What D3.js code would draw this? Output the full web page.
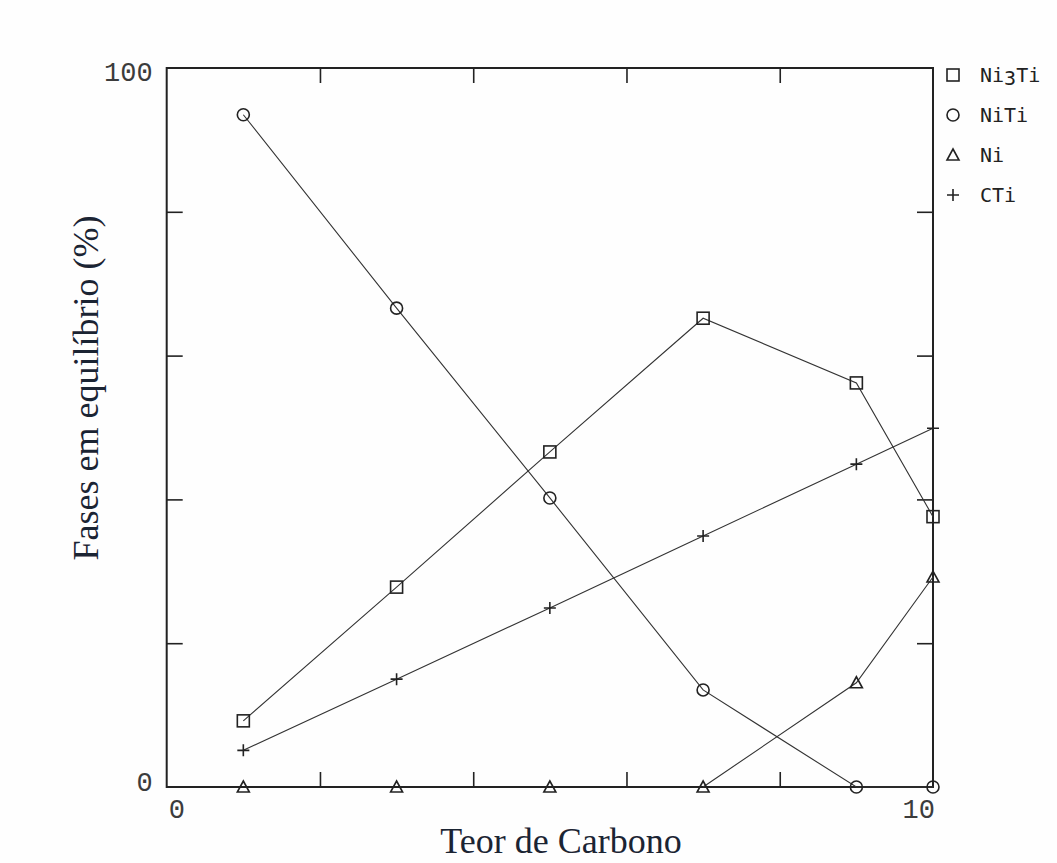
<!DOCTYPE html>
<html>
<head>
<meta charset="utf-8">
<script src="https://cdn.jsdelivr.net/npm/d3@7"></script>
<style>
  html, body { margin: 0; padding: 0; background: #fefefe; }
  svg { display: block; }
</style>
</head>
<body>
<svg id="chart" width="1057" height="863"></svg>
<script>
// Carbon content (x) and phase fractions in equilibrium (%)
const carbon = [1, 3, 5, 7, 9, 10];
const ni3ti  = [9.2, 27.8, 46.6, 65.2, 56.2, 37.6];
const niti   = [93.5, 66.6, 40.2, 13.5, 0, 0];
const ni     = [0, 0, 0, 0, 14.5, 29.2];
const cti    = [5.1, 15.0, 24.9, 34.9, 44.9, 49.9];

const seriesNames = ["Ni3Ti", "NiTi", "Ni", "CTi"];
const seriesValues = [ni3ti, niti, ni, cti];
const seriesMarkers = ["square", "circle", "triangle", "plus"];

const xTicks = [0, 2, 4, 6, 8, 10];
const yTicks = [0, 20, 40, 60, 80, 100];
const xTickLabels = ["0", "10"];
const yTickLabels = ["0", "100"];

const svg = d3.select("#chart");
const plotLeft = 166.7, plotRight = 933, plotTop = 68, plotBottom = 787;

const x = d3.scaleLinear().domain([0, 10]).range([plotLeft, plotRight]);
const y = d3.scaleLinear().domain([0, 100]).range([plotBottom, plotTop]);

const ink = "#222";
const monoFont = "'DejaVu Sans Mono', 'Liberation Mono', monospace";
const thinMono = "'Liberation Mono', 'DejaVu Sans Mono', monospace";
const serifFont = "'Liberation Serif', 'DejaVu Serif', serif";

// Inward ticks on all four sides
function styleAxis(g) {
  g.select(".domain").remove();
  g.selectAll(".tick line").attr("stroke", ink).attr("stroke-width", 1.6);
  g.selectAll(".tick text").remove();
}
svg.append("g").attr("transform", `translate(0,${plotBottom})`)
  .call(d3.axisBottom(x).tickValues(xTicks.slice(1, -1)).tickSize(-15)).call(styleAxis);
svg.append("g").attr("transform", `translate(0,${plotTop})`)
  .call(d3.axisTop(x).tickValues(xTicks.slice(1, -1)).tickSize(-15)).call(styleAxis);
svg.append("g").attr("transform", `translate(${plotLeft},0)`)
  .call(d3.axisLeft(y).tickValues(yTicks.slice(1, -1)).tickSize(-16)).call(styleAxis);
svg.append("g").attr("transform", `translate(${plotRight},0)`)
  .call(d3.axisRight(y).tickValues(yTicks.slice(1, -1)).tickSize(-16)).call(styleAxis);

// Plot frame
svg.append("rect")
  .attr("x", x(0)).attr("y", y(100))
  .attr("width", x(10) - x(0)).attr("height", y(0) - y(100))
  .attr("fill", "none").attr("stroke", ink).attr("stroke-width", 2);

// Tick labels
const tickLabelStyle = s => s.attr("font-family", thinMono).attr("font-size", 27)
  .attr("fill", "#3c3c3c");
svg.append("text").text(yTickLabels[1]).call(tickLabelStyle)
  .attr("x", plotLeft - 14).attr("y", y(100) + 13).attr("text-anchor", "end");
svg.append("text").text(yTickLabels[0]).call(tickLabelStyle)
  .attr("x", plotLeft - 14).attr("y", y(0) + 4).attr("text-anchor", "end");
svg.append("text").text(xTickLabels[0]).call(tickLabelStyle)
  .attr("x", x(0) + 2).attr("y", plotBottom + 31).attr("text-anchor", "start");
svg.append("text").text(xTickLabels[1]).call(tickLabelStyle)
  .attr("x", x(10) + 2).attr("y", plotBottom + 31).attr("text-anchor", "end");

// Axis titles
svg.append("text").text("Teor de Carbono")
  .attr("font-family", serifFont).attr("font-size", 36).attr("fill", "#1b2433")
  .attr("x", 561).attr("y", 853).attr("text-anchor", "middle");
svg.append("text").text("Fases em equilíbrio (%)")
  .attr("font-family", serifFont).attr("font-size", 36).attr("fill", "#1b2433")
  .attr("text-anchor", "middle")
  .attr("transform", "translate(98,388) rotate(-90)");

// Marker drawing
function drawMarker(g, type, cx, cy) {
  const s = 6;
  const common = el => el.attr("fill", "none").attr("stroke", ink).attr("stroke-width", 1.6);
  if (type === "square") {
    g.append("rect").attr("x", cx - s).attr("y", cy - s).attr("width", 2 * s).attr("height", 2 * s).call(common);
  } else if (type === "circle") {
    g.append("circle").attr("cx", cx).attr("cy", cy).attr("r", s).call(common);
  } else if (type === "triangle") {
    g.append("path").attr("d", `M${cx},${cy - s} L${cx + s},${cy + 5} L${cx - s},${cy + 5} Z`).call(common);
  } else {
    g.append("path").attr("d", `M${cx - s},${cy} H${cx + s} M${cx},${cy - s} V${cy + s}`).call(common);
  }
}

const line = d3.line().x(d => x(d[0])).y(d => y(d[1]));

seriesValues.forEach((vals, i) => {
  const pts = carbon.map((c, j) => [c, vals[j]]);
  const g = svg.append("g");
  // Ni is drawn as a line only where it is present
  const linePts = seriesNames[i] === "Ni" ? pts.filter((p, j) => j >= 3) : pts;
  g.append("path").attr("d", line(linePts))
    .attr("fill", "none").attr("stroke", "#333").attr("stroke-width", 1.1);
  pts.forEach(p => drawMarker(g, seriesMarkers[i], x(p[0]), y(p[1])));
});

// Legend
const legendY = [75, 115, 155, 195];
seriesNames.forEach((name, i) => {
  const g = svg.append("g");
  drawMarker(g, seriesMarkers[i], 953, legendY[i]);
  const t = g.append("text").attr("x", 980).attr("y", legendY[i] + 7)
    .attr("font-family", monoFont).attr("font-size", 20).attr("fill", ink);
  if (name === "Ni3Ti") {
    t.append("tspan").text("Ni");
    t.append("tspan").text("3").attr("dy", 3);
    t.append("tspan").text("Ti").attr("dy", -3);
  } else {
    t.text(name);
  }
});
</script>
</body>
</html>
